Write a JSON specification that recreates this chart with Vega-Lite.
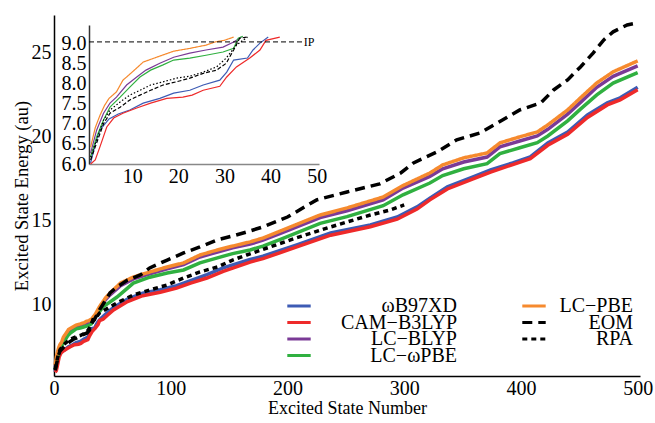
{
"$schema":"https://vega.github.io/schema/vega-lite/v6.json",
"width":586,"height":361,"autosize":"none",
"padding":{"left":54,"top":15,"right":15,"bottom":47},
"background":"white",
"config":{"font":"Liberation Serif","view":{"stroke":null},
 "axis":{"grid":false,"ticks":false,"labelFont":"Liberation Serif","titleFont":"Liberation Serif","labelColor":"black","titleColor":"black","titleFontWeight":"normal","domainColor":"black","labelFlush":false,"labelOverlap":false},
 "legend":{"title":null,"orient":"none","labelFont":"Liberation Serif","labelColor":"black","labelFontSize":20,"labelAlign":"right","symbolType":"M-1.8,0H1.8","symbolSize":169,"symbolStrokeWidth":3,"padding":0,"columns":1,"rowPadding":-3.5,"gridAlign":"none"}},
"data":{"values":[
{"m":"ωB97XD","n":1,"E":6.02},{"m":"ωB97XD","n":2,"E":6.5},{"m":"ωB97XD","n":3,"E":6.84},{"m":"ωB97XD","n":5,"E":7.12},{"m":"ωB97XD","n":7,"E":7.24},{"m":"ωB97XD","n":9.5,"E":7.34},{"m":"ωB97XD","n":12.4,"E":7.51},{"m":"ωB97XD","n":16,"E":7.63},{"m":"ωB97XD","n":19,"E":7.76},{"m":"ωB97XD","n":22.5,"E":7.83},{"m":"ωB97XD","n":25.4,"E":7.96},{"m":"ωB97XD","n":29,"E":8.08},{"m":"ωB97XD","n":30.5,"E":8.28},{"m":"ωB97XD","n":32,"E":8.58},{"m":"ωB97XD","n":35,"E":8.63},{"m":"ωB97XD","n":36.2,"E":8.83},{"m":"ωB97XD","n":37.7,"E":9.0},{"m":"ωB97XD","n":39.5,"E":9.15},{"m":"ωB97XD","n":45,"E":9.5},{"m":"ωB97XD","n":51,"E":9.85},{"m":"ωB97XD","n":63,"E":10.35},{"m":"ωB97XD","n":76,"E":10.7},{"m":"ωB97XD","n":91,"E":10.9},{"m":"ωB97XD","n":105,"E":11.15},{"m":"ωB97XD","n":117,"E":11.45},{"m":"ωB97XD","n":131,"E":11.8},{"m":"ωB97XD","n":145,"E":12.2},{"m":"ωB97XD","n":168,"E":12.7},{"m":"ωB97XD","n":179,"E":12.9},{"m":"ωB97XD","n":208,"E":13.57},{"m":"ωB97XD","n":237,"E":14.28},{"m":"ωB97XD","n":271,"E":14.76},{"m":"ωB97XD","n":294,"E":15.23},{"m":"ωB97XD","n":311,"E":15.83},{"m":"ωB97XD","n":322,"E":16.35},{"m":"ωB97XD","n":337,"E":17.02},{"m":"ωB97XD","n":359,"E":17.62},{"m":"ωB97XD","n":374,"E":18.03},{"m":"ωB97XD","n":393,"E":18.45},{"m":"ωB97XD","n":408,"E":18.81},{"m":"ωB97XD","n":423,"E":19.64},{"m":"ωB97XD","n":440,"E":20.29},{"m":"ωB97XD","n":457,"E":21.3},{"m":"ωB97XD","n":474,"E":22.02},{"m":"ωB97XD","n":485,"E":22.32},{"m":"ωB97XD","n":500,"E":22.95},
{"m":"CAM−B3LYP","n":1,"E":6.0},{"m":"CAM−B3LYP","n":2,"E":6.1},{"m":"CAM−B3LYP","n":3,"E":6.42},{"m":"CAM−B3LYP","n":4.5,"E":6.92},{"m":"CAM−B3LYP","n":6,"E":7.14},{"m":"CAM−B3LYP","n":8,"E":7.26},{"m":"CAM−B3LYP","n":11,"E":7.39},{"m":"CAM−B3LYP","n":14,"E":7.51},{"m":"CAM−B3LYP","n":17.5,"E":7.63},{"m":"CAM−B3LYP","n":21,"E":7.66},{"m":"CAM−B3LYP","n":23,"E":7.71},{"m":"CAM−B3LYP","n":25.4,"E":7.83},{"m":"CAM−B3LYP","n":29,"E":7.93},{"m":"CAM−B3LYP","n":30.5,"E":8.16},{"m":"CAM−B3LYP","n":32.6,"E":8.41},{"m":"CAM−B3LYP","n":35.5,"E":8.63},{"m":"CAM−B3LYP","n":37.7,"E":8.83},{"m":"CAM−B3LYP","n":39,"E":9.07},{"m":"CAM−B3LYP","n":42,"E":9.15},{"m":"CAM−B3LYP","n":46,"E":9.4},{"m":"CAM−B3LYP","n":51,"E":9.7},{"m":"CAM−B3LYP","n":63,"E":10.2},{"m":"CAM−B3LYP","n":76,"E":10.55},{"m":"CAM−B3LYP","n":91,"E":10.75},{"m":"CAM−B3LYP","n":105,"E":11.0},{"m":"CAM−B3LYP","n":117,"E":11.3},{"m":"CAM−B3LYP","n":131,"E":11.6},{"m":"CAM−B3LYP","n":145,"E":12.0},{"m":"CAM−B3LYP","n":168,"E":12.55},{"m":"CAM−B3LYP","n":179,"E":12.75},{"m":"CAM−B3LYP","n":208,"E":13.45},{"m":"CAM−B3LYP","n":237,"E":14.15},{"m":"CAM−B3LYP","n":271,"E":14.65},{"m":"CAM−B3LYP","n":294,"E":15.1},{"m":"CAM−B3LYP","n":311,"E":15.7},{"m":"CAM−B3LYP","n":322,"E":16.25},{"m":"CAM−B3LYP","n":337,"E":16.9},{"m":"CAM−B3LYP","n":359,"E":17.5},{"m":"CAM−B3LYP","n":374,"E":17.9},{"m":"CAM−B3LYP","n":393,"E":18.35},{"m":"CAM−B3LYP","n":408,"E":18.7},{"m":"CAM−B3LYP","n":423,"E":19.5},{"m":"CAM−B3LYP","n":440,"E":20.15},{"m":"CAM−B3LYP","n":457,"E":21.15},{"m":"CAM−B3LYP","n":474,"E":21.9},{"m":"CAM−B3LYP","n":485,"E":22.2},{"m":"CAM−B3LYP","n":500,"E":22.8},
{"m":"LC−BLYP","n":1,"E":6.27},{"m":"LC−BLYP","n":2.3,"E":6.84},{"m":"LC−BLYP","n":3.8,"E":7.26},{"m":"LC−BLYP","n":5.2,"E":7.51},{"m":"LC−BLYP","n":6.6,"E":7.66},{"m":"LC−BLYP","n":8.8,"E":7.96},{"m":"LC−BLYP","n":11,"E":8.16},{"m":"LC−BLYP","n":13,"E":8.33},{"m":"LC−BLYP","n":16,"E":8.5},{"m":"LC−BLYP","n":19,"E":8.65},{"m":"LC−BLYP","n":22.5,"E":8.75},{"m":"LC−BLYP","n":26,"E":8.83},{"m":"LC−BLYP","n":29.7,"E":8.9},{"m":"LC−BLYP","n":32,"E":9.03},{"m":"LC−BLYP","n":33.7,"E":9.15},{"m":"LC−BLYP","n":39,"E":9.75},{"m":"LC−BLYP","n":44,"E":10.3},{"m":"LC−BLYP","n":48,"E":10.6},{"m":"LC−BLYP","n":57,"E":11.15},{"m":"LC−BLYP","n":68,"E":11.55},{"m":"LC−BLYP","n":82,"E":11.85},{"m":"LC−BLYP","n":97,"E":12.15},{"m":"LC−BLYP","n":111,"E":12.4},{"m":"LC−BLYP","n":125,"E":12.85},{"m":"LC−BLYP","n":140,"E":13.15},{"m":"LC−BLYP","n":153,"E":13.4},{"m":"LC−BLYP","n":168,"E":13.62},{"m":"LC−BLYP","n":179,"E":13.85},{"m":"LC−BLYP","n":194,"E":14.25},{"m":"LC−BLYP","n":228,"E":15.2},{"m":"LC−BLYP","n":251,"E":15.6},{"m":"LC−BLYP","n":282,"E":16.25},{"m":"LC−BLYP","n":299,"E":16.95},{"m":"LC−BLYP","n":322,"E":17.65},{"m":"LC−BLYP","n":333,"E":18.1},{"m":"LC−BLYP","n":351,"E":18.5},{"m":"LC−BLYP","n":371,"E":18.8},{"m":"LC−BLYP","n":382,"E":19.4},{"m":"LC−BLYP","n":399,"E":19.75},{"m":"LC−BLYP","n":414,"E":20.05},{"m":"LC−BLYP","n":423,"E":20.45},{"m":"LC−BLYP","n":440,"E":21.35},{"m":"LC−BLYP","n":451,"E":22.05},{"m":"LC−BLYP","n":465,"E":22.95},{"m":"LC−BLYP","n":479,"E":23.6},{"m":"LC−BLYP","n":500,"E":24.22},
{"m":"LC−ωPBE","n":1,"E":6.17},{"m":"LC−ωPBE","n":2.3,"E":6.67},{"m":"LC−ωPBE","n":3.8,"E":7.09},{"m":"LC−ωPBE","n":5.2,"E":7.41},{"m":"LC−ωPBE","n":7.4,"E":7.66},{"m":"LC−ωPBE","n":9.5,"E":7.91},{"m":"LC−ωPBE","n":11.7,"E":8.16},{"m":"LC−ωPBE","n":14,"E":8.33},{"m":"LC−ωPBE","n":16.7,"E":8.46},{"m":"LC−ωPBE","n":19,"E":8.58},{"m":"LC−ωPBE","n":22.5,"E":8.63},{"m":"LC−ωPBE","n":26,"E":8.7},{"m":"LC−ωPBE","n":29.7,"E":8.78},{"m":"LC−ωPBE","n":32,"E":8.87},{"m":"LC−ωPBE","n":33,"E":9.12},{"m":"LC−ωPBE","n":34,"E":9.17},{"m":"LC−ωPBE","n":39,"E":9.6},{"m":"LC−ωPBE","n":42,"E":9.88},{"m":"LC−ωPBE","n":54,"E":10.47},{"m":"LC−ωPBE","n":68,"E":11.3},{"m":"LC−ωPBE","n":82,"E":11.65},{"m":"LC−ωPBE","n":97,"E":11.9},{"m":"LC−ωPBE","n":111,"E":12.08},{"m":"LC−ωPBE","n":125,"E":12.5},{"m":"LC−ωPBE","n":140,"E":12.8},{"m":"LC−ωPBE","n":153,"E":13.05},{"m":"LC−ωPBE","n":168,"E":13.27},{"m":"LC−ωPBE","n":179,"E":13.5},{"m":"LC−ωPBE","n":194,"E":13.9},{"m":"LC−ωPBE","n":228,"E":14.85},{"m":"LC−ωPBE","n":251,"E":15.25},{"m":"LC−ωPBE","n":282,"E":15.9},{"m":"LC−ωPBE","n":299,"E":16.55},{"m":"LC−ωPBE","n":322,"E":17.25},{"m":"LC−ωPBE","n":333,"E":17.7},{"m":"LC−ωPBE","n":351,"E":18.1},{"m":"LC−ωPBE","n":371,"E":18.4},{"m":"LC−ωPBE","n":382,"E":19.0},{"m":"LC−ωPBE","n":399,"E":19.35},{"m":"LC−ωPBE","n":414,"E":19.65},{"m":"LC−ωPBE","n":423,"E":20.05},{"m":"LC−ωPBE","n":440,"E":20.95},{"m":"LC−ωPBE","n":451,"E":21.65},{"m":"LC−ωPBE","n":465,"E":22.5},{"m":"LC−ωPBE","n":479,"E":23.2},{"m":"LC−ωPBE","n":500,"E":23.82},
{"m":"LC−PBE","n":1,"E":6.42},{"m":"LC−PBE","n":2,"E":6.9},{"m":"LC−PBE","n":3,"E":7.2},{"m":"LC−PBE","n":4,"E":7.45},{"m":"LC−PBE","n":5,"E":7.63},{"m":"LC−PBE","n":6.6,"E":7.79},{"m":"LC−PBE","n":8,"E":8.08},{"m":"LC−PBE","n":10,"E":8.28},{"m":"LC−PBE","n":12.4,"E":8.53},{"m":"LC−PBE","n":15.3,"E":8.65},{"m":"LC−PBE","n":19,"E":8.8},{"m":"LC−PBE","n":22.5,"E":8.87},{"m":"LC−PBE","n":26,"E":8.95},{"m":"LC−PBE","n":28,"E":9.03},{"m":"LC−PBE","n":30,"E":9.07},{"m":"LC−PBE","n":32,"E":9.15},{"m":"LC−PBE","n":35,"E":9.4},{"m":"LC−PBE","n":39,"E":9.9},{"m":"LC−PBE","n":44,"E":10.4},{"m":"LC−PBE","n":48,"E":10.71},{"m":"LC−PBE","n":57,"E":11.3},{"m":"LC−PBE","n":68,"E":11.66},{"m":"LC−PBE","n":82,"E":11.96},{"m":"LC−PBE","n":97,"E":12.26},{"m":"LC−PBE","n":111,"E":12.5},{"m":"LC−PBE","n":125,"E":12.97},{"m":"LC−PBE","n":140,"E":13.27},{"m":"LC−PBE","n":153,"E":13.5},{"m":"LC−PBE","n":168,"E":13.75},{"m":"LC−PBE","n":179,"E":13.98},{"m":"LC−PBE","n":194,"E":14.4},{"m":"LC−PBE","n":228,"E":15.35},{"m":"LC−PBE","n":251,"E":15.77},{"m":"LC−PBE","n":282,"E":16.42},{"m":"LC−PBE","n":299,"E":17.1},{"m":"LC−PBE","n":322,"E":17.85},{"m":"LC−PBE","n":333,"E":18.33},{"m":"LC−PBE","n":351,"E":18.75},{"m":"LC−PBE","n":371,"E":19.04},{"m":"LC−PBE","n":382,"E":19.64},{"m":"LC−PBE","n":399,"E":20.0},{"m":"LC−PBE","n":414,"E":20.29},{"m":"LC−PBE","n":423,"E":20.71},{"m":"LC−PBE","n":440,"E":21.6},{"m":"LC−PBE","n":451,"E":22.32},{"m":"LC−PBE","n":465,"E":23.21},{"m":"LC−PBE","n":479,"E":23.87},{"m":"LC−PBE","n":500,"E":24.52},
{"m":"EOM","n":1,"E":6.1},{"m":"EOM","n":2.3,"E":6.52},{"m":"EOM","n":3.8,"E":7.0},{"m":"EOM","n":5.2,"E":7.26},{"m":"EOM","n":7.4,"E":7.41},{"m":"EOM","n":9.5,"E":7.59},{"m":"EOM","n":11.7,"E":7.71},{"m":"EOM","n":14,"E":7.83},{"m":"EOM","n":16.7,"E":7.96},{"m":"EOM","n":19.6,"E":8.04},{"m":"EOM","n":22.5,"E":8.13},{"m":"EOM","n":25.4,"E":8.25},{"m":"EOM","n":28.3,"E":8.33},{"m":"EOM","n":30.4,"E":8.5},{"m":"EOM","n":32,"E":8.83},{"m":"EOM","n":33.3,"E":9.12},{"m":"EOM","n":34.8,"E":9.15},{"m":"EOM","n":39,"E":9.7},{"m":"EOM","n":48,"E":10.71},{"m":"EOM","n":54,"E":11.07},{"m":"EOM","n":63,"E":11.48},{"m":"EOM","n":74,"E":11.78},{"m":"EOM","n":82,"E":12.2},{"m":"EOM","n":97,"E":12.67},{"m":"EOM","n":111,"E":13.09},{"m":"EOM","n":125,"E":13.45},{"m":"EOM","n":140,"E":13.87},{"m":"EOM","n":153,"E":14.1},{"m":"EOM","n":165,"E":14.34},{"m":"EOM","n":179,"E":14.64},{"m":"EOM","n":200,"E":15.23},{"m":"EOM","n":225,"E":16.25},{"m":"EOM","n":251,"E":16.72},{"m":"EOM","n":279,"E":17.2},{"m":"EOM","n":297,"E":17.85},{"m":"EOM","n":308,"E":18.45},{"m":"EOM","n":328,"E":19.1},{"m":"EOM","n":345,"E":19.82},{"m":"EOM","n":365,"E":20.23},{"m":"EOM","n":380,"E":20.83},{"m":"EOM","n":399,"E":21.6},{"m":"EOM","n":417,"E":22.02},{"m":"EOM","n":428,"E":22.79},{"m":"EOM","n":440,"E":23.39},{"m":"EOM","n":451,"E":24.16},{"m":"EOM","n":462,"E":25.0},{"m":"EOM","n":471,"E":25.77},{"m":"EOM","n":479,"E":26.25},{"m":"EOM","n":491,"E":26.66},{"m":"EOM","n":500,"E":26.78},
{"m":"RPA","n":1,"E":6.17},{"m":"RPA","n":2.3,"E":6.6},{"m":"RPA","n":3.8,"E":7.09},{"m":"RPA","n":5.2,"E":7.34},{"m":"RPA","n":7.4,"E":7.54},{"m":"RPA","n":9.5,"E":7.71},{"m":"RPA","n":11.7,"E":7.83},{"m":"RPA","n":14,"E":7.96},{"m":"RPA","n":16.7,"E":8.04},{"m":"RPA","n":19.6,"E":8.13},{"m":"RPA","n":22.5,"E":8.18},{"m":"RPA","n":25.4,"E":8.28},{"m":"RPA","n":28.3,"E":8.41},{"m":"RPA","n":30.4,"E":8.63},{"m":"RPA","n":32.6,"E":8.95},{"m":"RPA","n":34,"E":9.07},{"m":"RPA","n":35,"E":9.15},{"m":"RPA","n":39,"E":9.52},{"m":"RPA","n":54,"E":10.12},{"m":"RPA","n":68,"E":10.59},{"m":"RPA","n":82,"E":10.89},{"m":"RPA","n":97,"E":11.19},{"m":"RPA","n":111,"E":11.6},{"m":"RPA","n":125,"E":11.96},{"m":"RPA","n":140,"E":12.26},{"m":"RPA","n":153,"E":12.67},{"m":"RPA","n":165,"E":12.97},{"m":"RPA","n":179,"E":13.3},{"m":"RPA","n":208,"E":14.0},{"m":"RPA","n":237,"E":14.64},{"m":"RPA","n":271,"E":15.35},{"m":"RPA","n":288,"E":15.65},{"m":"RPA","n":300,"E":15.95}
]},
"layer":[
{"transform":[{"filter":{"field":"m","oneOf":["ωB97XD","CAM−B3LYP","LC−BLYP","LC−ωPBE"]}}],
 "mark":{"type":"line","strokeWidth":3.5},
 "encoding":{
  "x":{"field":"n","type":"quantitative","scale":{"domain":[0,502],"nice":false},"axis":{"orient":"bottom","title":"Excited State Number","values":[0,100,200,300,400,500],"labelFontSize":20,"titleFontSize":18,"labelPadding":2,"titlePadding":1,"domainWidth":1.5}},
  "y":{"field":"E","type":"quantitative","scale":{"domain":[5.77,27.25],"nice":false,"zero":false},"axis":{"orient":"left","title":"Excited State Energy (au)","values":[10,15,20,25],"labelFontSize":20,"titleFontSize":18.5,"labelPadding":3,"titlePadding":0,"domainWidth":1.5}},
  "color":{"field":"m","type":"nominal","scale":{"domain":["ωB97XD","CAM−B3LYP","LC−BLYP","LC−ωPBE"],"range":["#3d5bb4","#ee2a2a","#7a3a96","#30b040"]},"legend":{"legendX":235,"legendY":281,"labelOffset":148}}
 }},
{"transform":[{"filter":{"field":"m","oneOf":["LC−PBE","EOM","RPA"]}}],
 "mark":{"type":"line","strokeWidth":3.5},
 "encoding":{
  "x":{"field":"n","type":"quantitative","scale":{"domain":[0,502],"nice":false},"axis":null},
  "y":{"field":"E","type":"quantitative","scale":{"domain":[5.77,27.25],"nice":false,"zero":false},"axis":null},
  "color":{"field":"m","type":"nominal","scale":{"domain":["LC−PBE","EOM","RPA"],"range":["#f68a2e","black","black"]},"legend":{"legendX":470,"legendY":281,"labelOffset":89}},
  "strokeDash":{"field":"m","type":"nominal","scale":{"domain":["LC−PBE","EOM","RPA"],"range":[[1,0],[10,6],[5,4]]},"legend":{"legendX":470,"legendY":281,"labelOffset":89}}
 }},
{"transform":[{"filter":{"field":"m","oneOf":["ωB97XD","CAM−B3LYP","LC−BLYP","LC−ωPBE"]}},{"filter":"datum.n <= 43 && datum.E <= 9.2"}],
 "mark":{"type":"line","strokeWidth":1.2},
 "encoding":{
  "x":{"field":"n","type":"quantitative","scale":{"domain":[0.65,50.5],"range":[35,265],"nice":false},"axis":{"orient":"bottom","offset":-212,"title":null,"values":[10,20,30,40,50],"labelFontSize":20,"labelPadding":2,"domainColor":"#888","domainWidth":1.5}},
  "y":{"field":"E","type":"quantitative","scale":{"domain":[6,9.45],"range":[149,10],"nice":false,"zero":false},"axis":{"orient":"left","offset":-35,"title":null,"values":[6,6.5,7,7.5,8,8.5,9],"format":".1f","labelFontSize":20,"labelPadding":3,"domainColor":"#333","domainWidth":1.5}},
  "color":{"field":"m","type":"nominal","scale":{"domain":["ωB97XD","CAM−B3LYP","LC−BLYP","LC−ωPBE"],"range":["#3d5bb4","#ee2a2a","#7a3a96","#30b040"]},"legend":null}
 }},
{"transform":[{"filter":{"field":"m","oneOf":["LC−PBE","EOM","RPA"]}},{"filter":"datum.n <= 43 && datum.E <= 9.2"}],
 "mark":{"type":"line","strokeWidth":1.2},
 "encoding":{
  "x":{"field":"n","type":"quantitative","scale":{"domain":[0.65,50.5],"range":[35,265],"nice":false},"axis":null},
  "y":{"field":"E","type":"quantitative","scale":{"domain":[6,9.45],"range":[149,10],"nice":false,"zero":false},"axis":null},
  "color":{"field":"m","type":"nominal","scale":{"domain":["LC−PBE","EOM","RPA"],"range":["#f68a2e","black","black"]},"legend":null},
  "strokeDash":{"field":"m","type":"nominal","scale":{"domain":["LC−PBE","EOM","RPA"],"range":[[1,0],[4,2],[1.5,2]]},"legend":null}
 }},
{"data":{"values":[{"label":"IP","E":9.03}]},
 "mark":{"type":"rule","strokeDash":[5,3],"strokeWidth":1,"color":"black"},
 "encoding":{
  "x":{"datum":0.65,"type":"quantitative","scale":{"domain":[0.65,50.5],"range":[35,265],"nice":false},"axis":null},
  "x2":{"datum":47},
  "y":{"field":"E","type":"quantitative","scale":{"domain":[6,9.45],"range":[149,10],"nice":false,"zero":false},"axis":null}
 }},
{"data":{"values":[{"label":"IP","E":9.03}]},
 "mark":{"type":"text","align":"left","baseline":"middle","fontSize":12,"dx":1,"fill":"black","font":"Liberation Serif"},
 "encoding":{
  "x":{"datum":47,"type":"quantitative","scale":{"domain":[0.65,50.5],"range":[35,265],"nice":false},"axis":null},
  "y":{"field":"E","type":"quantitative","scale":{"domain":[6,9.45],"range":[149,10],"nice":false,"zero":false},"axis":null},
  "text":{"field":"label"}
 }}
],
"resolve":{"scale":{"x":"independent","y":"independent","color":"independent","strokeDash":"independent"},"axis":{"x":"independent","y":"independent"},"legend":{"color":"independent","strokeDash":"independent"}}
}
